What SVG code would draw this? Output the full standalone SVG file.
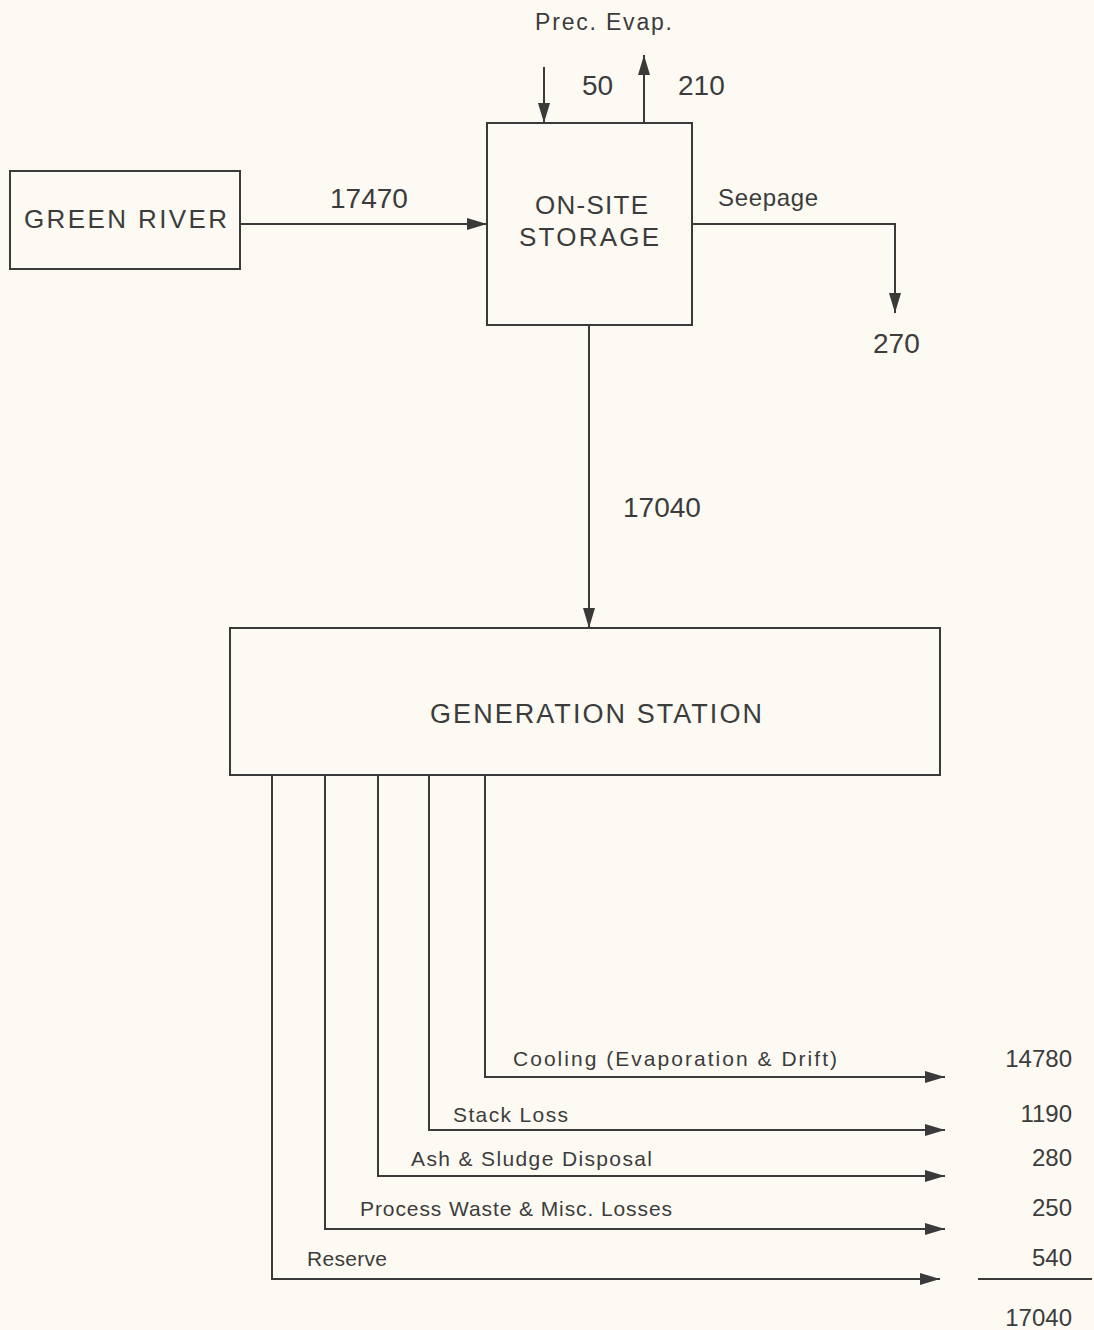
<svg xmlns="http://www.w3.org/2000/svg" width="1094" height="1330" viewBox="0 0 1094 1330">
<defs>
<style>
.box{fill:none;stroke:#3a3a3a;stroke-width:2}
.ln{fill:none;stroke:#3a3a3a;stroke-width:2}
.t{font-family:"Liberation Sans",Arial,sans-serif;fill:#3c3c3c}
.num{font-size:28px}
.cap{font-size:26px}
.mid{font-size:23px}
.sm{font-size:21px}
.val{font-size:24px}
</style>
<marker id="ah" markerUnits="userSpaceOnUse" markerWidth="22" markerHeight="14" refX="20" refY="7" orient="auto">
<path d="M0,1 L20,7 L0,13 Z" fill="#3a3a3a"/>
</marker>
</defs>
<rect width="1094" height="1330" fill="#fcfaf3"/>
<g id="green-river">
<rect class="box" x="10" y="171" width="230" height="98"/>
<text class="t cap" x="24" y="228" textLength="203">GREEN RIVER</text>
</g>
<g id="on-site-storage">
<rect class="box" x="487" y="123" width="205" height="202"/>
<text class="t cap" x="535" y="214" textLength="113">ON-SITE</text>
<text class="t cap" x="519" y="246" textLength="140">STORAGE</text>
</g>
<g id="generation-station">
<rect class="box" x="230" y="628" width="710" height="147"/>
<text class="t" style="font-size:27px" x="430" y="723" textLength="332">GENERATION STATION</text>
</g>
<g id="connectors">
<line class="ln" x1="240" y1="224" x2="487" y2="224" marker-end="url(#ah)"/>
<line class="ln" x1="544" y1="67" x2="544" y2="123" marker-end="url(#ah)"/>
<line class="ln" x1="644" y1="123" x2="644" y2="55" marker-end="url(#ah)"/>
<polyline class="ln" points="692,224 895,224 895,313" marker-end="url(#ah)"/>
<line class="ln" x1="589" y1="325" x2="589" y2="628" marker-end="url(#ah)"/>
<polyline class="ln" points="485,775 485,1077 945,1077" marker-end="url(#ah)"/>
<polyline class="ln" points="429,775 429,1130 945,1130" marker-end="url(#ah)"/>
<polyline class="ln" points="378,775 378,1176 945,1176" marker-end="url(#ah)"/>
<polyline class="ln" points="325,775 325,1229 945,1229" marker-end="url(#ah)"/>
<polyline class="ln" points="272,775 272,1279 940,1279" marker-end="url(#ah)"/>
<line class="ln" x1="978" y1="1279" x2="1092" y2="1279"/>
</g>
<g id="labels">
<text class="t mid" x="535" y="30" textLength="137">Prec. Evap.</text>
<text class="t num" x="582" y="95">50</text>
<text class="t num" x="678" y="95">210</text>
<text class="t num" x="330" y="208">17470</text>
<text class="t" style="font-size:24px" x="718" y="206" textLength="100">Seepage</text>
<text class="t num" x="873" y="353">270</text>
<text class="t num" x="623" y="517">17040</text>
<text class="t sm" x="513" y="1066" textLength="324">Cooling (Evaporation &amp; Drift)</text>
<text class="t sm" x="453" y="1122" textLength="115">Stack Loss</text>
<text class="t sm" x="411" y="1166" textLength="241">Ash &amp; Sludge Disposal</text>
<text class="t sm" x="360" y="1216" textLength="312">Process Waste &amp; Misc. Losses</text>
<text class="t sm" x="307" y="1266" textLength="80">Reserve</text>
<text class="t val" x="1072" y="1067" text-anchor="end">14780</text>
<text class="t val" x="1072" y="1122" text-anchor="end">1190</text>
<text class="t val" x="1072" y="1166" text-anchor="end">280</text>
<text class="t val" x="1072" y="1216" text-anchor="end">250</text>
<text class="t val" x="1072" y="1266" text-anchor="end">540</text>
<text class="t val" x="1072" y="1326" text-anchor="end">17040</text>
</g>
</svg>
